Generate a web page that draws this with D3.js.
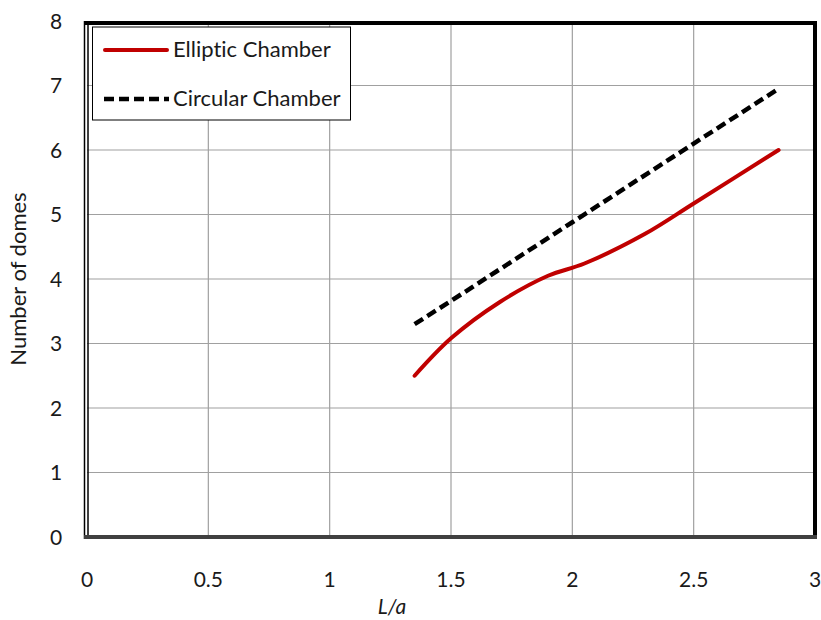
<!DOCTYPE html>
<html><head><meta charset="utf-8">
<script src="https://cdn.jsdelivr.net/npm/d3@7"></script>
<style>body{margin:0;background:#fff;} text{font-family:Lato,"Open Sans",sans-serif;fill:#1a1a1a;font-variant-ligatures:none;}</style>
</head><body>
<svg id="c" width="821" height="620"></svg>
<script>
const xTicks = [0, 0.5, 1, 1.5, 2, 2.5, 3];
const yTicks = [0, 1, 2, 3, 4, 5, 6, 7, 8];
const ellipticX = [1.35, 1.5, 1.7, 1.9, 2.05, 2.3, 2.5, 2.85];
const ellipticY = [2.5, 3.08, 3.64, 4.05, 4.24, 4.7, 5.17, 6.0];
const circularX = [1.35, 1.5, 2.0, 2.5, 2.85];
const circularY = [3.3, 3.66, 4.88, 6.1, 6.95];
const seriesNames = ["Elliptic Chamber", "Circular Chamber"];

const svg = d3.select("#c");
const L = 87, R = 815, T = 21, B = 537;
const x = d3.scaleLinear().domain([0, 3]).range([L, R]);
const y = d3.scaleLinear().domain([0, 8]).range([B, T]);

// grid
svg.append("g").selectAll("line").data(xTicks.filter(d => d > 0 && d < 3)).join("line")
  .attr("x1", d => x(d)).attr("x2", d => x(d)).attr("y1", T).attr("y2", B)
  .attr("stroke", "#a0a0a0").attr("stroke-width", 1.2);
svg.append("g").selectAll("line").data(yTicks.filter(d => d > 0 && d < 8)).join("line")
  .attr("x1", L).attr("x2", R).attr("y1", d => y(d)).attr("y2", d => y(d))
  .attr("stroke", "#a0a0a0").attr("stroke-width", 1.2);

// frame
svg.append("line").attr("x1", 84.5).attr("x2", 84.5).attr("y1", 21).attr("y2", 539).attr("stroke", "#000").attr("stroke-width", 1.5);
svg.append("line").attr("x1", 88).attr("x2", 88).attr("y1", 25).attr("y2", 537).attr("stroke", "#000").attr("stroke-width", 1.5);
svg.append("line").attr("x1", 84).attr("x2", 817).attr("y1", 23).attr("y2", 23).attr("stroke", "#000").attr("stroke-width", 4);
svg.append("line").attr("x1", 815).attr("x2", 815).attr("y1", 21).attr("y2", 539).attr("stroke", "#000").attr("stroke-width", 4);
svg.append("line").attr("x1", 84).attr("x2", 817).attr("y1", 537).attr("y2", 537).attr("stroke", "#404040").attr("stroke-width", 4);

// tick labels
svg.append("g").selectAll("text").data(xTicks).join("text")
  .attr("x", d => x(d)).attr("y", 587).attr("text-anchor", "middle")
  .attr("font-size", 21).text(d => d);
svg.append("g").selectAll("text").data(yTicks).join("text")
  .attr("x", 56).attr("y", d => y(d) + 7.5).attr("text-anchor", "middle")
  .attr("font-size", 21).text(d => d);

// axis titles
svg.append("text").attr("transform", "translate(26,279) rotate(-90)")
  .attr("text-anchor", "middle").attr("font-size", 22).text("Number of domes");
svg.append("text").attr("x", 392).attr("y", 614).attr("text-anchor", "middle")
  .attr("font-size", 21).attr("font-style", "italic").text("L/a");

// series
const ell = ellipticX.map((v, i) => [v, ellipticY[i]]);
const cir = circularX.map((v, i) => [v, circularY[i]]);
const line = d3.line().x(d => x(d[0])).y(d => y(d[1])).curve(d3.curveCatmullRom.alpha(0.5));
svg.append("path").datum(ell).attr("d", line).attr("fill", "none")
  .attr("stroke", "#c00000").attr("stroke-width", 4).attr("stroke-linecap", "round");
svg.append("path").datum(cir).attr("d", d3.line().x(d => x(d[0])).y(d => y(d[1]))).attr("fill", "none")
  .attr("stroke", "#000").attr("stroke-width", 4.5).attr("stroke-dasharray", "10,5");

// legend
svg.append("rect").attr("x", 92.5).attr("y", 27).attr("width", 258).attr("height", 93)
  .attr("fill", "#fff").attr("stroke", "#000").attr("stroke-width", 1);
svg.append("line").attr("x1", 105).attr("x2", 167).attr("y1", 50).attr("y2", 50)
  .attr("stroke", "#c00000").attr("stroke-width", 4).attr("stroke-linecap", "round");
svg.append("line").attr("x1", 104).attr("x2", 169).attr("y1", 99).attr("y2", 99)
  .attr("stroke", "#000").attr("stroke-width", 4.5).attr("stroke-dasharray", "10,5");
svg.append("text").attr("x", 173).attr("y", 57).attr("font-size", 22).text(seriesNames[0]);
svg.append("text").attr("x", 173).attr("y", 106).attr("font-size", 22).text(seriesNames[1]);
</script>
</body></html>
